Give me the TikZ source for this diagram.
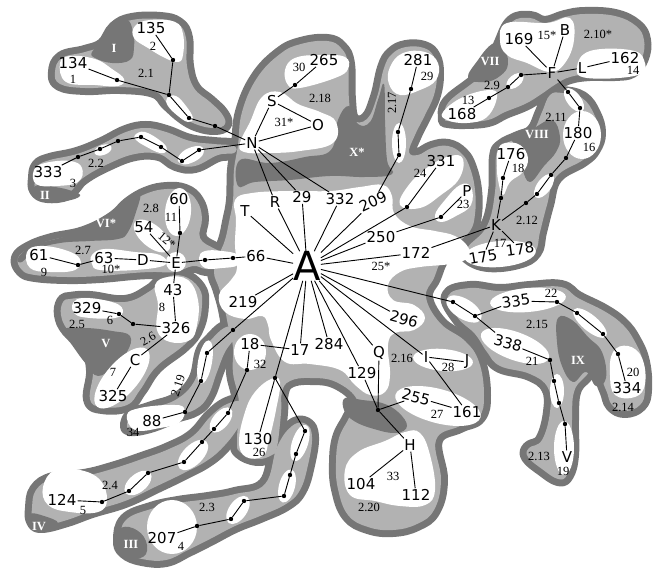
\documentclass[tikz,border=0pt]{standalone}
\usepackage{fontspec}
\newfontfamily\labfont{DejaVu Sans}
\newfontfamily\smfont{Liberation Serif}
\definecolor{dg}{RGB}{118,118,118}
\definecolor{lg}{RGB}{178,178,178}
\newcommand\DBx[1]{\draw[dg,fill=dg,line width=14pt,line join=round] plot[smooth cycle,tension=.7] coordinates {#1};}
\newcommand\LBx[1]{\fill[lg] plot[smooth cycle,tension=.7] coordinates {#1};}
\newcommand\DB[1]{\expandafter\DBx\expandafter{#1}}
\newcommand\LB[1]{\expandafter\LBx\expandafter{#1}}
\newcommand\DP[1]{\fill[dg] plot[smooth cycle,tension=.7] coordinates {#1};}
\newcommand\WP[1]{\fill[white] plot[smooth cycle,tension=.7] coordinates {#1};}
\newcommand\WE[4]{\fill[white,rotate around={#4:(#1)}] (#1) ellipse [x radius=#2,y radius=#3];}
\newcommand\chain[1]{\foreach \u/\v in {#1} {\draw[ln] (\u) -- (\v);}}
\def\bI{(55,72) (62,58) (85,52) (103,45) (115,28) (132,20) (160,19) (178,24) (186,38) (187,66) (194,88) (210,102) (222,114) (225,124) (215,128) (198,125) (183,117) (168,104) (154,91) (120,87) (85,88) (60,84)}
\def\bII{(35,178) (38,166) (50,160) (77,154) (102,144) (126,132) (146,128) (166,132) (190,141) (214,144) (234,146) (234,153) (218,155) (195,166) (176,164) (159,154) (135,154) (108,164) (83,178) (68,193) (47,196) (36,190)}
\def\bVI{(18,258) (30,248) (52,240) (84,233) (112,219) (130,203) (148,193) (167,189) (185,191) (197,201) (202,218) (200,238) (215,249) (228,255) (229,263) (222,268) (206,269) (193,266) (175,272) (153,272) (133,273) (100,276) (67,277) (35,275) (22,270)}
\def\bV{(63,302) (70,299) (90,298) (125,302) (150,291) (165,278) (183,276) (199,288) (202,305) (197,328) (184,345) (156,367) (140,390) (127,405) (102,407) (90,399) (93,370) (86,345) (68,330) (61,315)}
\def\bIV{(32,508) (36,490) (53,479) (84,476) (112,469) (142,459) (169,449) (193,436) (211,416) (227,404) (243,401) (246,408) (239,426) (225,445) (208,460) (184,473) (155,487) (125,501) (92,511) (67,520) (42,526) (33,521)}
\def\bIII{(120,540) (126,520) (151,509) (178,503) (208,499) (235,494) (265,484) (277,447) (292,426) (306,424) (312,437) (308,465) (300,490) (286,504) (260,516) (235,526) (210,539) (188,550) (166,560) (142,559) (125,552)}
\def\bXIX{(127,424) (133,415) (152,408) (177,399) (195,380) (202,352) (211,340) (224,328) (233,328) (235,337) (225,352) (217,372) (208,396) (196,409) (176,416) (150,426) (131,429)}
\def\bVII{(445,118) (448,103) (470,85) (490,70) (500,45) (512,22) (530,18) (545,23) (565,17) (585,14) (615,16) (636,26) (644,40) (642,58) (632,71) (615,74) (590,74) (570,77) (556,84) (540,95) (525,104) (505,112) (488,120) (465,122) (448,121)}
\def\bVIII{(550,95) (562,93) (582,98) (594,114) (599,133) (594,149) (583,160) (556,177) (547,205) (540,232) (535,252) (518,262) (488,265) (468,257) (468,247) (487,226) (495,192) (496,157) (502,146) (518,138) (533,131) (542,112)}
\def\bIX{(448,296) (470,288) (500,291) (530,288) (561,287) (578,298) (604,311) (622,324) (634,340) (643,362) (645,390) (640,405) (625,411) (612,405) (606,390) (596,370) (584,378) (574,392) (572,420) (572,455) (567,475) (558,479) (542,469) (528,457) (529,448) (542,440) (550,412) (548,388) (530,374) (500,366) (487,352) (475,334) (458,318)}
\def\bC{(233,200) (234,170) (238,145) (242,112) (257,78) (280,54) (301,44) (327,41) (341,48) (348,64) (349,100) (353,120) (367,119) (377,97) (384,68) (392,54) (406,47) (424,48) (434,57) (437,74) (434,95) (425,115) (415,135) (409,152) (418,155) (432,148) (448,146) (462,154) (470,168) (475,190) (475,214) (470,231) (455,245) (442,259) (434,278) (426,297) (440,323) (465,341) (479,362) (484,395) (479,417) (460,426) (436,440) (441,480) (434,510) (417,524) (393,530) (368,527) (348,515) (338,489) (336,463) (339,438) (349,418) (357,400) (336,382) (310,378) (290,381) (282,392) (281,413) (277,447) (272,455) (257,459) (240,452) (237,440) (239,403) (233,373) (233,347) (228,325) (224,305) (219,288) (214,272) (219,255) (225,240) (229,222)}
\begin{document}
\begin{tikzpicture}[x=1pt,y=-1pt,
 lab/.style={font=\labfont\fontsize{15}{15}\selectfont,inner sep=1pt},
 sm/.style={font=\smfont\fontsize{12.5}{12.5}\selectfont,inner sep=0pt},
 rom/.style={font=\smfont\bfseries\fontsize{12.5}{12.5}\selectfont,text=white,inner sep=0pt},
 dot/.style={circle,fill=black,inner sep=0pt,minimum size=4.4pt},
 ln/.style={line width=0.9pt}]
\useasboundingbox (0,0) rectangle (657,569);
% dark outer bands
\DB\bI \DB\bII \DB\bVI \DB\bV \DB\bIV \DB\bIII \DB\bXIX \DB\bVII \DB\bVIII \DB\bIX \DB\bC
% light interiors
\LB\bI \LB\bII \LB\bVI \LB\bV \LB\bIV \LB\bIII \LB\bXIX \LB\bVII \LB\bVIII \LB\bIX \LB\bC
% dark label areas
\DP{(240,160) (270,163) (305,157) (331,150) (338,120) (349,106) (358,124) (370,122) (378,100) (384,84) (385,120) (387,160) (392,174) (365,177) (330,176) (290,180) (255,182) (238,186)}
\DP{(92,52) (102,42) (112,27) (127,20) (133,32) (134,47) (130,60) (112,63) (95,58)}
\DP{(35,186) (55,187) (72,191) (80,196) (65,201) (40,200)}
\DP{(18,258) (32,246) (60,238) (90,230) (112,217) (128,201) (140,194) (136,212) (128,232) (118,239) (90,241) (60,243) (35,250) (22,262)}
\DP{(62,330) (85,328) (112,331) (130,336) (127,352) (114,366) (98,376) (86,364) (72,345)}
\DP{(468,78) (478,60) (492,44) (503,45) (508,64) (500,76) (485,82)}
\DP{(512,137) (532,129) (552,120) (560,137) (556,152) (544,166) (530,182) (522,168) (518,150)}
\DP{(558,318) (572,320) (588,337) (602,352) (606,378) (596,386) (586,372) (573,382) (562,366) (557,342)}
\DP{(30,514) (44,516) (58,523) (44,530) (32,526)}
\DP{(117,532) (129,527) (144,537) (146,554) (131,559) (119,550)}
\DP{(345,398) (362,400) (382,403) (398,412) (407,426) (396,433) (374,429) (354,421) (344,410)}
% white islands
\WP{(60,63) (70,56) (95,59) (112,69) (124,79) (118,86) (95,85) (66,82)}
\WP{(135,26) (150,20) (175,22) (183,34) (183,55) (178,62) (165,58) (148,48) (134,38)}
\WP{(167,98) (176,96) (186,106) (193,118) (188,122) (178,116) (168,106)}
\WP{(34,170) (45,163) (70,161) (82,168) (78,182) (55,186) (36,184)}
\WE{103,150}{9}{5}{20}
\WP{(135,135) (145,132) (162,142) (167,150) (160,153) (145,146) (136,140)}
\WP{(178,158) (185,150) (198,146) (204,150) (200,158) (188,164) (180,163)}
\WP{(240,143) (250,122) (262,97) (280,92) (298,104) (320,112) (336,122) (333,143) (300,151) (268,153) (244,152)}
\WP{(285,70) (295,58) (320,55) (345,57) (348,69) (335,78) (300,88) (288,85)}
\WP{(390,67) (403,53) (425,52) (438,63) (436,80) (420,90) (400,95) (389,84)}
\WE{399,143}{7}{20}{0}
\WP{(400,205) (408,186) (428,167) (450,156) (463,159) (459,179) (441,195) (420,208)}
\WP{(435,215) (445,200) (460,185) (471,187) (471,205) (456,216) (441,222)}
\WP{(235,200) (252,193) (290,191) (330,191) (360,187) (383,185) (392,196) (394,213) (410,226) (435,231) (455,236) (468,247) (468,258) (450,264) (420,267) (400,272) (388,285) (393,300) (414,305) (425,318) (414,330) (395,333) (388,345) (390,375) (385,392) (370,395) (355,385) (340,370) (310,364) (285,362) (271,340) (268,325) (262,316) (245,319) (225,312) (219,295) (231,280) (237,268) (235,245) (236,220)}
\WP{(199,258) (205,251) (222,251) (238,255) (238,265) (222,268) (205,268)}
\WE{250,352}{16}{18}{0}
\WP{(245,412) (255,392) (271,379) (280,382) (276,410) (269,440) (263,456) (246,457) (239,442)}
\WE{443,360}{30}{11}{-5}
\WE{438,406}{44}{17}{-15}
\WP{(345,470) (358,452) (385,441) (405,432) (420,433) (430,455) (435,490) (425,505) (400,506) (375,501) (350,495)}
\WP{(500,40) (507,23) (547,23) (570,18) (574,40) (565,63) (550,72) (527,63) (507,55)}
\WP{(577,67) (590,51) (630,50) (644,60) (638,75) (587,78)}
\WP{(443,112) (463,97) (490,90) (497,97) (487,117) (467,123) (447,120)}
\WE{515,81}{10}{6}{40}
\WE{582,135}{19}{24}{0}
\WE{574,100}{14}{7}{-53}
\WP{(498,150) (505,143) (520,145) (528,158) (523,172) (510,182) (503,195) (498,180) (497,165)}
\WE{544,186}{14}{7}{54}
\WE{500,254}{36}{13}{5}
\WE{464,309}{20}{10}{-32}
\WE{528,300}{38}{12}{5}
\WE{515,346}{36}{14}{-20}
\WE{590,323}{21}{8}{-40}
\WE{557,391}{7}{17}{0}
\WE{564,448}{10}{27}{0}
\WP{(613,352) (628,346) (642,358) (645,384) (635,397) (615,395) (610,375)}
\WE{178,212}{13}{24}{-5}
\WE{152,236}{22}{11}{-40}
\WE{176,262}{10}{10}{0}
\WP{(27,252) (40,246) (65,250) (80,259) (75,270) (50,272) (30,268)}
\WP{(92,255) (105,249) (135,252) (160,255) (165,265) (135,270) (100,270) (92,264)}
\WP{(155,285) (168,277) (188,280) (198,300) (197,325) (190,340) (170,342) (157,330) (158,305)}
\WP{(73,303) (85,298) (115,303) (123,312) (115,318) (90,318) (75,314)}
\WE{122,378}{38}{16}{49}
\WP{(127,415) (140,408) (170,405) (184,408) (180,422) (160,428) (135,430)}
\WE{205,362}{7}{22}{-10}
\WP{(43,487) (55,470) (80,470) (100,480) (107,500) (98,512) (70,512) (48,505)}
\WE{138,483}{16}{9}{40}
\WE{193,455}{19}{10}{45}
\WE{221,420}{15}{8}{50}
\WE{172,527}{25}{27}{0}
\WE{238,510}{16}{9}{55}
\WE{287,486}{17}{8}{75}
\WE{300,443}{19}{8}{72}
% labels
\node[lab,font=\labfont\fontsize{40}{40}\selectfont,inner sep=0pt] (A) at (307,266) {A};
\node[lab] (N) at (252,143) {N};
\node[lab] (S) at (272,101) {S};
\node[lab] (O) at (318,125) {O};
\node[lab] (n265) at (324,60) {265};
\node[lab] (n281) at (418,60) {281};
\node[lab] (T) at (245,211) {T};
\node[lab] (R) at (275,202) {R};
\node[lab] (n29) at (302,197) {29};
\node[lab] (n332) at (340,199) {332};
\node[lab,rotate=25] (n209) at (373,202) {209};
\node[lab] (n331) at (441,161) {331};
\node[lab] (P) at (467,191) {P};
\node[lab] (n250) at (381,237) {250};
\node[lab] (n172) at (416,253) {172};
\node[lab] (n66) at (256,256) {66};
\node[lab] (n219) at (243,302) {219};
\node[lab] (n18) at (250,344) {18};
\node[lab] (n17) at (300,350) {17};
\node[lab] (n284) at (329,344) {284};
\node[lab] (n129) at (362,373) {129};
\node[lab] (Q) at (379,353) {Q};
\node[lab,rotate=-15] (n296) at (404,319) {296};
\node[lab] (I) at (426,357) {I};
\node[lab] (J) at (467,362) {J};
\node[lab,rotate=-15] (n255) at (416,397) {255};
\node[lab] (n161) at (467,412) {161};
\node[lab] (H) at (410,445) {H};
\node[lab] (n104) at (361,484) {104};
\node[lab] (n112) at (416,495) {112};
\node[lab] (n130) at (258,439) {130};
\node[lab] (n88) at (152,421) {88};
\node[lab] (n124) at (62,500) {124};
\node[lab] (n207) at (162,538) {207};
\node[lab] (n325) at (113,396) {325};
\node[lab] (C) at (135,360) {C};
\node[lab] (n326) at (176,328) {326};
\node[lab] (n43) at (173,290) {43};
\node[lab] (n329) at (87,308) {329};
\node[lab] (E) at (176,263) {E};
\node[lab] (D) at (143,260) {D};
\node[lab] (n63) at (104,258) {63};
\node[lab] (n61) at (39,255) {61};
\node[lab] (n54) at (144,227) {54};
\node[lab] (n60) at (179,199) {60};
\node[lab] (n134) at (73,63) {134};
\node[lab] (n135) at (151,28) {135};
\node[lab] (n333) at (48,172) {333};
\node[lab] (n169) at (519,39) {169};
\node[lab] (B) at (565,30) {B};
\node[lab] (F) at (552,73) {F};
\node[lab] (L) at (582,68) {L};
\node[lab] (n162) at (625,58) {162};
\node[lab] (n168) at (462,114) {168};
\node[lab] (n180) at (578,133) {180};
\node[lab] (n176) at (511,154) {176};
\node[lab] (K) at (496,225) {K};
\node[lab,rotate=10] (n175) at (483,257) {175};
\node[lab,rotate=8] (n178) at (520,249) {178};
\node[lab,rotate=8] (n335) at (516,301) {335};
\node[lab,rotate=-15] (n338) at (508,343) {338};
\node[lab] (n334) at (627,388) {334};
\node[lab] (V) at (567,457) {V};
% small labels
\node[sm] (s1) at (73,79) {1};
\node[sm] (s2) at (153,46) {2};
\node[sm] (s21) at (146,73) {2.1};
\node[sm] (s3) at (73,183) {3};
\node[sm] (s22) at (96,163) {2.2};
\node[sm] (s30) at (299,67) {30};
\node[sm] (s218) at (320,98) {2.18};
\node[sm] (s31) at (284,122) {31*};
\node[sm] (s29) at (427,76) {29};
\node[sm,rotate=90] (s217) at (392,103) {2.17};
\node[sm] (s24) at (420,173) {24};
\node[sm] (s23) at (463,204) {23};
\node[sm] (s25) at (381,266) {25*};
\node[sm] (s15) at (547,35) {15*};
\node[sm] (s210) at (598,34) {2.10*};
\node[sm] (s14) at (633,70) {14};
\node[sm] (s13) at (468,100) {13};
\node[sm] (s29b) at (492,85) {2.9};
\node[sm] (s211) at (556,117) {2.11};
\node[sm] (s16) at (589,147) {16};
\node[sm] (s18) at (518,168) {18};
\node[sm] (s212) at (527,220) {2.12};
\node[sm] (s17) at (500,243) {17};
\node[sm] (s22b) at (551,293) {22};
\node[sm] (s215) at (537,324) {2.15};
\node[sm] (s21b) at (532,361) {21};
\node[sm] (s20) at (633,372) {20};
\node[sm] (s214) at (623,407) {2.14};
\node[sm] (s213) at (539,456) {2.13};
\node[sm] (s19) at (563,471) {19};
\node[sm] (s28) at (448,367) {28};
\node[sm] (s27) at (437,414) {27};
\node[sm] (s216) at (402,358) {2.16};
\node[sm] (s33) at (393,476) {33};
\node[sm] (s220) at (369,507) {2.20};
\node[sm] (s32) at (260,364) {32};
\node[sm] (s26) at (259,452) {26};
\node[sm] (s34) at (133,432) {34};
\node[sm,rotate=72] (s219) at (178,386) {2.19};
\node[sm] (s5) at (83,510) {5};
\node[sm] (s24b) at (110,485) {2.4};
\node[sm] (s4) at (181,546) {4};
\node[sm] (s23b) at (207,507) {2.3};
\node[sm] (s7) at (113,372) {7};
\node[sm] (s25b) at (77,324) {2.5};
\node[sm] (s6) at (110,320) {6};
\node[sm] (s8) at (162,307) {8};
\node[sm,rotate=30] (s26b) at (148,339) {2.6};
\node[sm] (s9) at (44,272) {9};
\node[sm] (s10) at (111,269) {10*};
\node[sm] (s27b) at (83,250) {2.7};
\node[sm] (s28b) at (151,208) {2.8};
\node[sm] (s11) at (171,217) {11};
\node[sm,rotate=-40] (s12) at (167,240) {12*};
% roman region labels
\node[rom] (rI) at (114,48) {I};
\node[rom] (rII) at (45,195) {II};
\node[rom] (rVI) at (106,223) {VI*};
\node[rom] (rV) at (106,344) {V};
\node[rom] (rVII) at (490,62) {VII};
\node[rom] (rVIII) at (537,135) {VIII};
\node[rom] (rIX) at (578,360) {IX};
\node[rom] (rX) at (357,152) {X*};
\node[rom] (rIV) at (39,527) {IV};
\node[rom] (rIII) at (131,544) {III};
% dots
\foreach \n/\p in {d135/{173,60},d134/{117,80},dIa/{169,95},dIb/{189,118},dIc/{215,126},
 dIIa/{199,150},dIIb/{182,161},dIIc/{161,147},dIId/{141,137},dIIe/{118,141},dIIf/{100,149},dIIg/{78,157},
 d265/{295,85},d281a/{411,89},d281b/{398,132},d281c/{399,155},d331/{407,207},dP/{441,217},
 dKa/{501,198},dKb/{503,178},dKc/{526,203},dKd/{537,194},dKe/{551,175},dKf/{566,158},
 dFa/{580,108},dFb/{568,92},dFc/{521,75},dFd/{508,87},dFe/{489,98},
 dIXa/{453,302},dIXb/{475,316},dIXc/{557,302},dIXd/{577,313},dIXe/{603,334},dIXf/{618,354},
 dIXg/{550,360},dIXh/{554,381},dIXi/{559,403},dIXj/{565,424},
 d60/{180,233},d66a/{205,260},d66b/{233,258},d61/{78,265},dVa/{133,324},dVb/{119,314},
 d88a/{233,330},d88b/{207,353},d88c/{201,381},d88d/{185,412},
 dIVa/{247,370},dIVb/{228,413},dIVc/{214,429},dIVd/{202,442},dIVe/{184,462},dIVf/{148,473},dIVg/{129,491},dIVh/{102,502},
 d130/{275,378},dIIIa/{305,431},dIIIb/{296,454},dIIIc/{290,475},dIIId/{284,496},dIIIe/{244,501},dIIIf/{231,519},dIIIg/{197,526},
 dQ/{378,410}}
 {\node[dot] (\n) at (\p) {};}
% connectors
\foreach \x in {T,R,n29,n332,n209,d331,n250,n172,n66,n219,d88a,d130,n17,n284,n129,Q,I,n296,dIXa}
 {\draw[ln] (A) -- (\x);}
\chain{N/S,N/O,N/R,N/n29,N/n332,N/dIc,N/dIIa,S/O,S/d265,d265/n265}
\chain{dIc/dIb,dIb/dIa,dIa/d135,d135/n135,dIa/d134,d134/n134}
\chain{dIIa/dIIb,dIIb/dIIc,dIIc/dIId,dIId/dIIe,dIIe/dIIf,dIIf/dIIg,dIIg/n333}
\chain{n209/d281c,d281c/d281b,d281b/d281a,d281a/n281,d331/n331,n250/dP,dP/P}
\chain{n172/K,K/n175,K/n178,K/dKa,dKa/dKb,dKb/n176,K/dKc,dKc/dKd,dKd/dKe,dKe/dKf,dKf/n180,n180/dFa,dFa/dFb,dFb/F}
\chain{F/n169,F/B,F/L,L/n162,F/dFc,dFc/dFd,dFd/dFe,dFe/n168}
\chain{dIXa/dIXb,dIXb/n335,n335/dIXc,dIXc/dIXd,dIXd/dIXe,dIXe/dIXf,dIXf/n334}
\chain{dIXb/n338,n338/dIXg,dIXg/dIXh,dIXh/dIXi,dIXi/dIXj,dIXj/V}
\chain{n66/d66b,d66b/d66a,d66a/E,E/D,D/n63,n63/d61,d61/n61,E/n54,E/d60,d60/n60,E/n43,n43/n326}
\chain{n326/C,C/n325,n326/dVa,dVa/dVb,dVb/n329}
\chain{d88a/d88b,d88b/d88c,d88c/d88d,d88d/n88}
\chain{n17/n18,n18/dIVa,dIVa/dIVb,dIVb/dIVc,dIVc/dIVd,dIVd/dIVe,dIVe/dIVf,dIVf/dIVg,dIVg/dIVh,dIVh/n124}
\chain{d130/n130,d130/dIIIa,dIIIa/dIIIb,dIIIb/dIIIc,dIIIc/dIIId,dIIId/dIIIe,dIIIe/dIIIf,dIIIf/dIIIg,dIIIg/n207}
\chain{Q/dQ,n129/dQ,dQ/n255,dQ/H,H/n104,H/n112,I/J,I/n161,n255/n161}
\end{tikzpicture}
\end{document}
